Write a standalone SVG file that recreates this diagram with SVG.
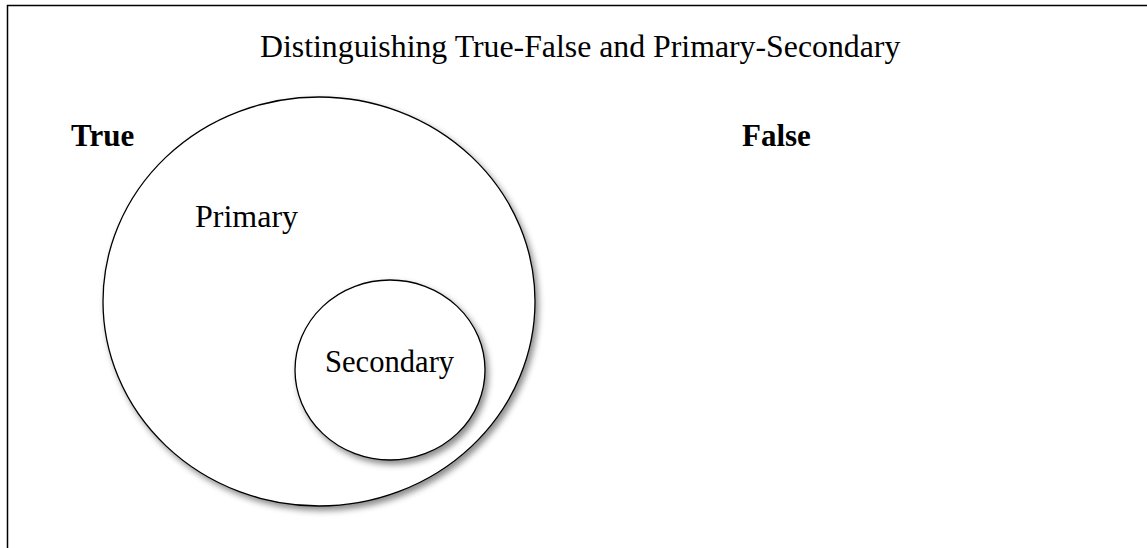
<svg xmlns="http://www.w3.org/2000/svg" width="1147" height="548" viewBox="0 0 1147 548">
<style>
.t{font-family:"Liberation Serif","Times New Roman",serif;fill:#000}
.b{font-weight:bold}
.c{fill:#fff;stroke:#000;stroke-width:1.3;filter:url(#sh)}
</style>
<defs>
<filter id="sh" x="-10%" y="-10%" width="125%" height="125%">
<feDropShadow dx="3" dy="4" stdDeviation="3" flood-color="#000" flood-opacity="0.45"/>
</filter>
</defs>
<rect width="1147" height="548" fill="#fff"/>
<path d="M7.5 548 V5.5 H1147" fill="none" stroke="#000" stroke-width="1.5"/>
<text class="t" x="260" y="57" font-size="31.8">Distinguishing True-False and Primary-Secondary</text>
<text class="t b" x="71" y="146" font-size="31">True</text>
<text class="t b" x="742" y="146" font-size="31">False</text>
<g id="primary">
<ellipse class="c" cx="319" cy="301.5" rx="216" ry="204.5"/>
<text class="t" x="195" y="227" font-size="32">Primary</text>
</g>
<g id="secondary">
<ellipse class="c" cx="390" cy="370" rx="95" ry="90"/>
<text class="t" x="325" y="372" font-size="30.6">Secondary</text>
</g>
<g id="connectors"/>
</svg>
